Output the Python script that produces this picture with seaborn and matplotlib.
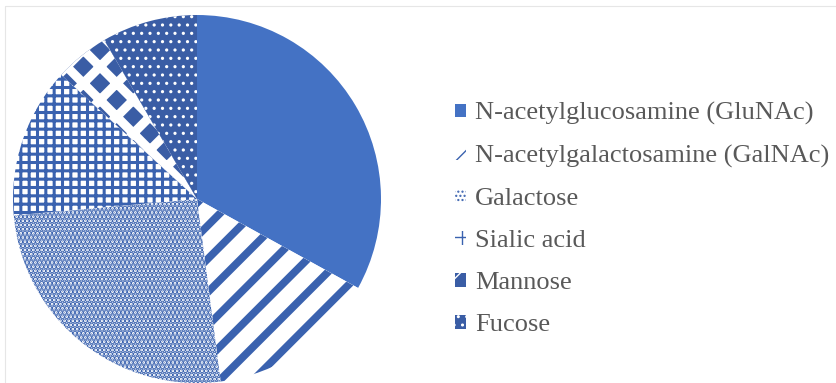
import matplotlib
matplotlib.use('Agg')
import matplotlib.pyplot as plt
import seaborn as sns
from matplotlib.lines import Line2D
from matplotlib.patches import Patch

# share of each monosaccharide (%)
sugars = ["N-acetylglucosamine (GluNAc)", "N-acetylgalactosamine (GalNAc)",
          "Galactose", "Sialic acid", "Mannose", "Fucose"]
shares = [33.0, 14.9, 25.6, 13.2, 4.8, 8.4]

sns.set_theme(style="white")
plt.rcParams['font.family'] = ['Liberation Serif', 'DejaVu Serif']

blue = "#4472C4"
pat = "#3A62AF"
dark = "#3A5DA5"

# face, hatch colour, hatch, hatch linewidth
styles = [
    (blue, blue, None, 1.0),
    ("white", pat, "/", 5.5),
    ("white", pat, "....", 2.6),
    ("white", pat, "++", 2.2),
    (dark, "white", "x", 6.5),
    (dark, "white", "..", 1.1),
]

fig = plt.figure(figsize=(8.37, 3.83), dpi=100)
ax = fig.add_axes([13/837, 0, 368/837, 368/383])

wedges, _ = ax.pie(shares, startangle=90, counterclock=False, radius=1)
for w, (fc, hc, h, lw) in zip(wedges, styles):
    w.set_facecolor(fc)
    w.set_edgecolor(hc)
    w.set_linewidth(0)
    if h:
        w.set_hatch(h)
        if hasattr(w, "set_hatch_linewidth"):
            w.set_hatch_linewidth(lw)
ax.set_xlim(-1, 1)
ax.set_ylim(-1, 1)
ax.axis('off')

# legend keys: same styles, stripe key a bit denser so a stripe shows in the small box
handles = []
for i, (fc, hc, h, lw) in enumerate(styles):
    if i == 1:
        h, lw = "//", 3.0
    p = Patch(facecolor=fc, edgecolor=hc, hatch=h, linewidth=0)
    if h and hasattr(p, "set_hatch_linewidth"):
        p.set_hatch_linewidth(lw)
    handles.append(p)

leg = fig.legend(handles, sugars, loc='upper left',
                 bbox_to_anchor=(455/837, 1 - 102/383),
                 frameon=False, fontsize=19, borderpad=0,
                 handlelength=0.4, handleheight=0.4,
                 handletextpad=0.35, labelspacing=0.76, borderaxespad=0)
for t in leg.get_texts():
    t.set_color("#595959")

# faint chart border (top & left visible)
fig.add_artist(Line2D([5/837, 1], [1 - 6/383, 1 - 6/383], color="#e6e6e6", lw=0.8))
fig.add_artist(Line2D([5/837, 5/837], [0, 1 - 6/383], color="#e6e6e6", lw=0.8))

fig.savefig("out.png", dpi=100)
